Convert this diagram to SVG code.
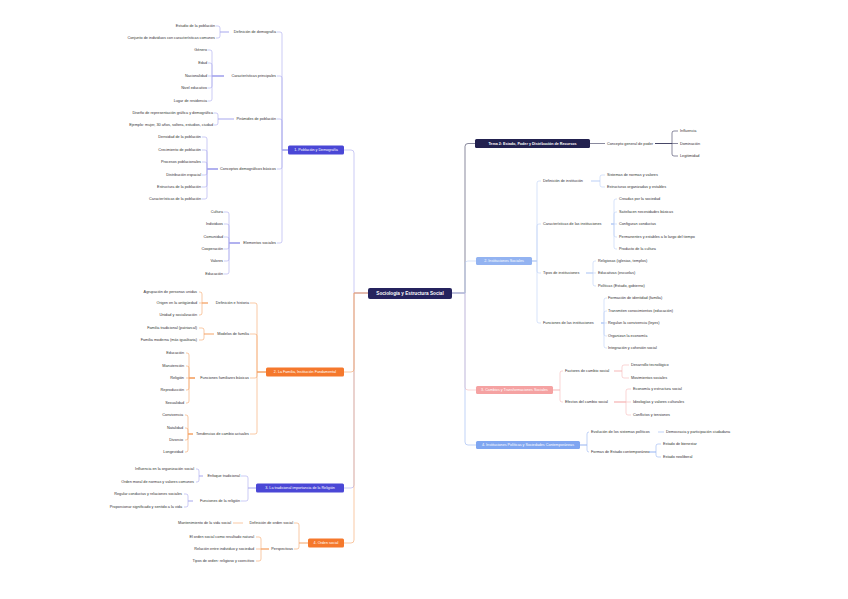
<svg xmlns="http://www.w3.org/2000/svg" width="848" height="599" viewBox="0 0 848 599">
<style>
.t{font-family:"Liberation Sans",Arial,sans-serif;font-size:3.8px;fill:#333}
.e{text-anchor:end}
.b{font-family:"Liberation Sans",Arial,sans-serif;font-size:3.7px;fill:#fff;text-anchor:middle}
.c{fill:none;stroke-width:0.6}
.pu{stroke:#aaa7ee}.or{stroke:#f5a468}.dk{stroke:#3b3b5c}.lb{stroke:#bcd0f6}.pk{stroke:#f6b9b9}.bl{stroke:#98b6f2}
</style>
<rect width="848" height="599" fill="#fff"/>
<g id="connectors">
<path class="c pu" d="M368 293H354V153Q354 150 351 150H344"/>
<path class="c pu" d="M368 293H354V485Q354 488 351 488H344"/>
<path class="c or" d="M368 293H354V369Q354 372 351 372H344"/>
<path class="c or" d="M368 293H354V540Q354 543 351 543H344"/>
<path class="c dk" d="M452 293H465V146.5Q465 143.5 468 143.5H475"/>
<path class="c pk" d="M452 293H465V387Q465 390 468 390H476"/>
<path class="c bl" d="M452 293H465V442Q465 445 468 445H476"/>
<path class="c lb" d="M452 293H465V264Q465 261 468 261H476"/>
<path class="c pu" d="M288 150H282V34Q282 32 280 32H277M288 150H282V78Q282 76 280 76H277M288 150H282V121Q282 119 280 119H277M288 150H282V167Q282 169 280 169H277M288 150H282V241Q282 243 280 243H277"/>
<path class="c pu" d="M229 32H220V28Q220 26 218 26H216M229 32H220V36Q220 38 218 38H216"/>
<path class="c pu" d="M224 76H212V52Q212 50 210 50H208M224 76H212V65Q212 63 210 63H208M224 76H208M224 76H212V86Q212 88 210 88H208M224 76H212V99Q212 101 210 101H208"/>
<path class="c pu" d="M234 119H218V115Q218 113 216 113H214M234 119H218V123Q218 125 216 125H214"/>
<path class="c pu" d="M218 169H207V139Q207 137 205 137H202M218 169H207V152Q207 150 205 150H202M218 169H207V164Q207 162 205 162H202M218 169H207V173Q207 175 205 175H202M218 169H207V185Q207 187 205 187H202M218 169H207V197Q207 199 205 199H202"/>
<path class="c pu" d="M240 243H229V214Q229 212 227 212H224M240 243H229V226Q229 224 227 224H224M240 243H229V239Q229 237 227 237H224M240 243H229V247Q229 249 227 249H224M240 243H229V259Q229 261 227 261H224M240 243H229V272Q229 274 227 274H224"/>
<path class="c or" d="M266 372H257V305Q257 303 255 303H250M266 372H257V336Q257 334 255 334H250M266 372H257V376Q257 378 255 378H250M266 372H257V432Q257 434 255 434H250"/>
<path class="c or" d="M208 303H202V294Q202 292 200 292H199M208 303H199M208 303H202V313Q202 315 200 315H199"/>
<path class="c or" d="M214 334H204V330Q204 328 202 328H199M214 334H204V338Q204 340 202 340H199"/>
<path class="c or" d="M195 378H189V355Q189 353 187 353H186M195 378H189V368Q189 366 187 366H186M195 378H186M195 378H189V388Q189 390 187 390H186M195 378H189V401Q189 403 187 403H186"/>
<path class="c or" d="M193 434H188V417Q188 415 186 415H185M193 434H188V430Q188 428 186 428H185M193 434H188V438Q188 440 186 440H185M193 434H188V450Q188 452 186 452H185"/>
<path class="c pu" d="M256 488H248V478Q248 476 246 476H241M256 488H248V499Q248 501 246 501H241"/>
<path class="c pu" d="M203 476H199V471Q199 469 197 469H196M203 476H199V480Q199 482 197 482H196"/>
<path class="c pu" d="M193 501H188V496Q188 494 186 494H184M193 501H188V505Q188 507 186 507H184"/>
<path class="c or" d="M308 543H299V525Q299 523 297 523H294M308 543H299V547Q299 549 297 549H294"/>
<path class="c or" d="M243 523H233"/>
<path class="c or" d="M269 549H261V539Q261 537 259 537H256M269 549H256M269 549H261V559Q261 561 259 561H256"/>
<path class="c dk" d="M590 143.5H605"/>
<path class="c dk" d="M655 143.5H672V133Q672 131 674 131H678M655 143.5H678M655 143.5H672V154Q672 156 674 156H678"/>
<path class="c lb" d="M532 261H537V183Q537 181 539 181H541M532 261H537V226Q537 224 539 224H541M532 261H537V271Q537 273 539 273H541M532 261H537V321Q537 323 539 323H541"/>
<path class="c lb" d="M591 181H600V177Q600 175 602 175H605M591 181H600V185Q600 187 602 187H605"/>
<path class="c lb" d="M611 224H614V201Q614 199 616 199H617M611 224H614V214Q614 212 616 212H617M611 224H617M611 224H614V235Q614 237 616 237H617M611 224H614V247Q614 249 616 249H617"/>
<path class="c lb" d="M586 273H593V263Q593 261 595 261H596M586 273H596M586 273H593V284Q593 286 595 286H596"/>
<path class="c lb" d="M601 323H604V300Q604 298 606 298H607M601 323H604V313Q604 311 606 311H607M601 323H607M601 323H604V334Q604 336 606 336H607M601 323H604V346Q604 348 606 348H607"/>
<path class="c pk" d="M553 390H560V373Q560 371 562 371H563M553 390H560V400Q560 402 562 402H563"/>
<path class="c pk" d="M614 371H622V367Q622 365 624 365H629M614 371H622V376Q622 378 624 378H629"/>
<path class="c pk" d="M614 402H626V391Q626 389 628 389H631M614 402H631M614 402H626V413Q626 415 628 415H631"/>
<path class="c bl" d="M580 445H587V434Q587 432 589 432M580 445H587V450Q587 452 589 452"/>
<path class="c bl" d="M658 432H664"/>
<path class="c bl" d="M649 452H656V446Q656 444 658 444H661M649 452H656V455Q656 457 658 457H661"/>
</g>

<g id="root"><rect x="368" y="288" width="84" height="11" rx="2" fill="#25235e"/><text x="410" y="295.2" font-family="Liberation Sans, Arial, sans-serif" font-size="4.7" font-weight="bold" fill="#fff" text-anchor="middle">Sociología y Estructura Social</text></g>

<g id="n1"><rect x="288" y="145.5" width="56" height="9" rx="1.5" fill="#4a47d6"/><text class="b" x="316" y="151.3">1. Población y Demografía</text></g>
<g id="n1a"><text class="t e" x="276" y="33.3">Definición de demografía</text></g>
<g id="n1a1"><text class="t e" x="215" y="27.3">Estudio de la población</text></g>
<g id="n1a2"><text class="t e" x="215" y="39.3">Conjunto de individuos con características comunes</text></g>
<g id="n1b"><text class="t e" x="276" y="77.3">Características principales</text></g>
<g id="n1b1"><text class="t e" x="207" y="51.3">Género</text></g>
<g id="n1b2"><text class="t e" x="207" y="64.3">Edad</text></g>
<g id="n1b3"><text class="t e" x="207" y="77.3">Nacionalidad</text></g>
<g id="n1b4"><text class="t e" x="207" y="89.3">Nivel educativo</text></g>
<g id="n1b5"><text class="t e" x="207" y="102.3">Lugar de residencia</text></g>
<g id="n1c"><text class="t e" x="276" y="120.3">Pirámides de población</text></g>
<g id="n1c1"><text class="t e" x="213" y="114.3">Diseño de representación gráfica y demográfica</text></g>
<g id="n1c2"><text class="t e" x="213" y="126.3">Ejemplo: mujer, 30 años, soltera, estudios, ciudad</text></g>
<g id="n1d"><text class="t e" x="276" y="170.3">Conceptos demográficos básicos</text></g>
<g id="n1d1"><text class="t e" x="201" y="138.3">Densidad de la población</text></g>
<g id="n1d2"><text class="t e" x="201" y="151.3">Crecimiento de población</text></g>
<g id="n1d3"><text class="t e" x="201" y="163.3">Procesos poblacionales</text></g>
<g id="n1d4"><text class="t e" x="201" y="176.3">Distribución espacial</text></g>
<g id="n1d5"><text class="t e" x="201" y="188.3">Estructura de la población</text></g>
<g id="n1d6"><text class="t e" x="201" y="200.3">Características de la población</text></g>
<g id="n1e"><text class="t e" x="276" y="244.3">Elementos sociales</text></g>
<g id="n1e1"><text class="t e" x="223" y="213.3">Cultura</text></g>
<g id="n1e2"><text class="t e" x="223" y="225.3">Individuos</text></g>
<g id="n1e3"><text class="t e" x="223" y="238.3">Comunidad</text></g>
<g id="n1e4"><text class="t e" x="223" y="250.3">Cooperación</text></g>
<g id="n1e5"><text class="t e" x="223" y="262.3">Valores</text></g>
<g id="n1e6"><text class="t e" x="223" y="275.3">Educación</text></g>

<g id="n2"><rect x="266" y="367.5" width="78" height="9" rx="1.5" fill="#f5782c"/><text class="b" x="305" y="373.3">2. La Familia, Institución Fundamental</text></g>
<g id="n2a"><text class="t e" x="249" y="304.3">Definición e historia</text></g>
<g id="n2a1"><text class="t e" x="197" y="293.3">Agrupación de personas unidas</text></g>
<g id="n2a2"><text class="t e" x="197" y="304.3">Origen en la antigüedad</text></g>
<g id="n2a3"><text class="t e" x="197" y="316.3">Unidad y socialización</text></g>
<g id="n2b"><text class="t e" x="249" y="335.3">Modelos de familia</text></g>
<g id="n2b1"><text class="t e" x="197" y="329.3">Familia tradicional (patriarcal)</text></g>
<g id="n2b2"><text class="t e" x="197" y="341.3">Familia moderna (más igualitaria)</text></g>
<g id="n2c"><text class="t e" x="249" y="379.3">Funciones familiares básicas</text></g>
<g id="n2c1"><text class="t e" x="184" y="354.3">Educación</text></g>
<g id="n2c2"><text class="t e" x="184" y="367.3">Manutención</text></g>
<g id="n2c3"><text class="t e" x="184" y="379.3">Religión</text></g>
<g id="n2c4"><text class="t e" x="184" y="391.3">Reproducción</text></g>
<g id="n2c5"><text class="t e" x="184" y="404.3">Sexualidad</text></g>
<g id="n2d"><text class="t e" x="249" y="435.3">Tendencias de cambio actuales</text></g>
<g id="n2d1"><text class="t e" x="183" y="416.3">Convivencia</text></g>
<g id="n2d2"><text class="t e" x="183" y="429.3">Natalidad</text></g>
<g id="n2d3"><text class="t e" x="183" y="441.3">Divorcio</text></g>
<g id="n2d4"><text class="t e" x="183" y="453.3">Longevidad</text></g>

<g id="n3"><rect x="256" y="483.5" width="88" height="9" rx="1.5" fill="#4a47d6"/><text class="b" x="300" y="489.3">3. La tradicional importancia de la Religión</text></g>
<g id="n3a"><text class="t e" x="240" y="477.3">Enfoque tradicional</text></g>
<g id="n3a1"><text class="t e" x="194" y="470.3">Influencia en la organización social</text></g>
<g id="n3a2"><text class="t e" x="194" y="483.3">Orden moral de normas y valores comunes</text></g>
<g id="n3b"><text class="t e" x="240" y="502.3">Funciones de la religión</text></g>
<g id="n3b1"><text class="t e" x="182" y="495.3">Regular conductas y relaciones sociales</text></g>
<g id="n3b2"><text class="t e" x="182" y="508.3">Proporcionar significado y sentido a la vida</text></g>

<g id="n4"><rect x="308" y="538.5" width="36" height="9" rx="1.5" fill="#f5782c"/><text class="b" x="326" y="544.3">4. Orden social</text></g>
<g id="n4a"><text class="t e" x="293" y="524.3">Definición de orden social</text></g>
<g id="n4a1"><text class="t e" x="231" y="524.3">Mantenimiento de la vida social</text></g>
<g id="n4b"><text class="t e" x="293" y="550.3">Perspectivas</text></g>
<g id="n4b1"><text class="t e" x="254" y="538.3">El orden social como resultado natural</text></g>
<g id="n4b2"><text class="t e" x="254" y="550.3">Relación entre individuo y sociedad</text></g>
<g id="n4b3"><text class="t e" x="254" y="562.3">Tipos de orden: religioso y coercitivo</text></g>

<g id="r1"><rect x="475" y="139" width="115" height="9" rx="1.5" fill="#22214f"/><text class="b" x="532.5" y="144.8" font-weight="bold">Tema 2: Estado, Poder y Distribución de Recursos</text></g>
<g id="r1a"><text class="t" x="607" y="144.8">Concepto general de poder</text></g>
<g id="r1a1"><text class="t" x="680" y="132.3">Influencia</text></g>
<g id="r1a2"><text class="t" x="680" y="144.8">Dominación</text></g>
<g id="r1a3"><text class="t" x="680" y="157.3">Legitimidad</text></g>

<g id="r2"><rect x="476" y="257" width="56" height="8" rx="1.5" fill="#93b3f1"/><text class="b" x="504" y="262.3">2. Instituciones Sociales</text></g>
<g id="r2a"><text class="t" x="543" y="182.3">Definición de institución</text></g>
<g id="r2a1"><text class="t" x="607" y="176.3">Sistemas de normas y valores</text></g>
<g id="r2a2"><text class="t" x="607" y="188.3">Estructuras organizadas y estables</text></g>
<g id="r2b"><text class="t" x="543" y="225.3">Características de las instituciones</text></g>
<g id="r2b1"><text class="t" x="619" y="200.3">Creadas por la sociedad</text></g>
<g id="r2b2"><text class="t" x="619" y="213.3">Satisfacen necesidades básicas</text></g>
<g id="r2b3"><text class="t" x="619" y="225.3">Configuran conductas</text></g>
<g id="r2b4"><text class="t" x="619" y="238.3">Permanentes y estables a lo largo del tiempo</text></g>
<g id="r2b5"><text class="t" x="619" y="250.3">Producto de la cultura</text></g>
<g id="r2c"><text class="t" x="543" y="274.3">Tipos de instituciones</text></g>
<g id="r2c1"><text class="t" x="598" y="262.3">Religiosas (iglesias, templos)</text></g>
<g id="r2c2"><text class="t" x="598" y="274.3">Educativas (escuelas)</text></g>
<g id="r2c3"><text class="t" x="598" y="287.3">Políticas (Estado, gobierno)</text></g>
<g id="r2d"><text class="t" x="543" y="324.3">Funciones de las instituciones</text></g>
<g id="r2d1"><text class="t" x="608" y="299.3">Formación de identidad (familia)</text></g>
<g id="r2d2"><text class="t" x="608" y="312.3">Transmiten conocimientos (educación)</text></g>
<g id="r2d3"><text class="t" x="608" y="324.3">Regulan la convivencia (leyes)</text></g>
<g id="r2d4"><text class="t" x="608" y="337.3">Organizan la economía</text></g>
<g id="r2d5"><text class="t" x="608" y="349.3">Integración y cohesión social</text></g>

<g id="r3"><rect x="476" y="386" width="77" height="8" rx="1.5" fill="#f5a2a2"/><text class="b" x="514.5" y="391.3">3. Cambios y Transformaciones Sociales</text></g>
<g id="r3a"><text class="t" x="565" y="372.3">Factores de cambio social</text></g>
<g id="r3a1"><text class="t" x="631" y="366.3">Desarrollo tecnológico</text></g>
<g id="r3a2"><text class="t" x="631" y="379.3">Movimientos sociales</text></g>
<g id="r3b"><text class="t" x="565" y="403.3">Efectos del cambio social</text></g>
<g id="r3b1"><text class="t" x="633" y="390.3">Economía y estructura social</text></g>
<g id="r3b2"><text class="t" x="633" y="403.3">Ideologías y valores culturales</text></g>
<g id="r3b3"><text class="t" x="633" y="416.3">Conflictos y tensiones</text></g>

<g id="r4"><rect x="476" y="441" width="104" height="8" rx="1.5" fill="#7fa6f1"/><text class="b" x="528" y="446.3">4. Instituciones Políticas y Sociedades Contemporáneas</text></g>
<g id="r4a"><text class="t" x="591" y="433.3">Evolución de los sistemas políticos</text></g>
<g id="r4a1"><text class="t" x="666" y="433.3">Democracia y participación ciudadana</text></g>
<g id="r4b"><text class="t" x="591" y="453.3">Formas de Estado contemporáneo</text></g>
<g id="r4b1"><text class="t" x="663" y="445.3">Estado de bienestar</text></g>
<g id="r4b2"><text class="t" x="663" y="458.3">Estado neoliberal</text></g>
</svg>
